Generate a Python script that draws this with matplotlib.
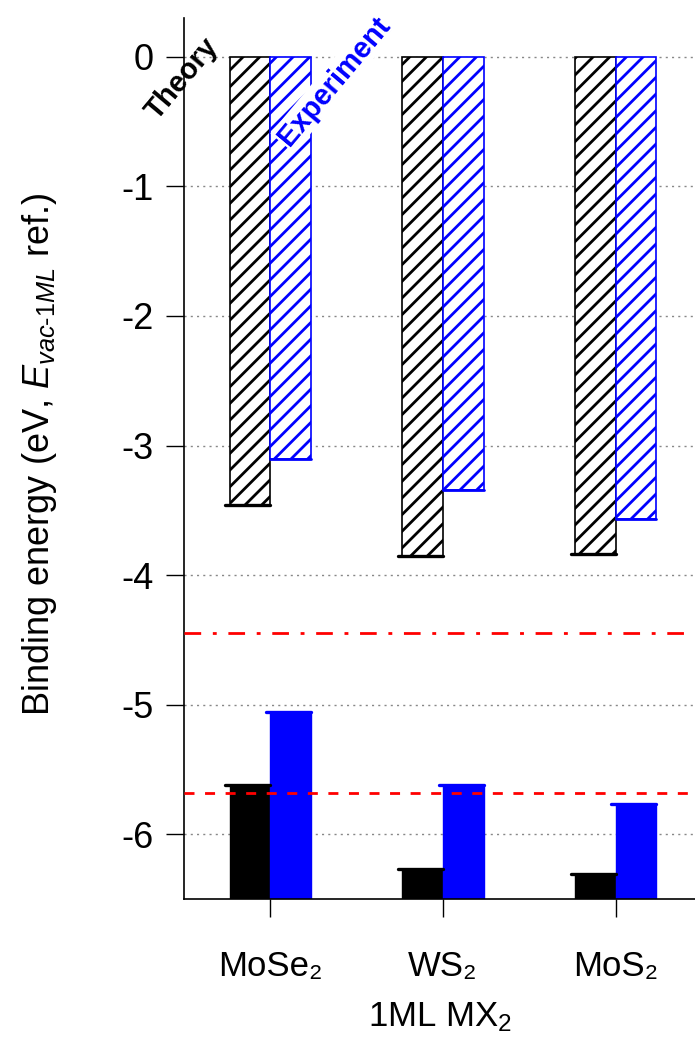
import numpy as np
import matplotlib
matplotlib.use('Agg')
import matplotlib.pyplot as plt

plt.rcParams['font.family'] = ['Liberation Sans', 'DejaVu Sans']
plt.rcParams['mathtext.fontset'] = 'custom'
plt.rcParams['mathtext.rm'] = 'Liberation Sans'
plt.rcParams['mathtext.it'] = 'Liberation Sans:italic'
plt.rcParams['hatch.linewidth'] = 2.0

materials = ['MoSe\u2082', 'WS\u2082', 'MoS\u2082']
cbm_theory = [-3.46, -3.85, -3.84]
cbm_exp = [-3.10, -3.34, -3.57]
vbm_theory = [-5.62, -6.27, -6.31]
vbm_exp = [-5.06, -5.62, -5.77]
level_dashdot = -4.45
level_dashed = -5.68
ymin, ymax = -6.5, 0.3
yticks = [0, -1, -2, -3, -4, -5, -6]

x = np.arange(len(materials))
w = 0.235

fig = plt.figure(figsize=(6.95, 10.38), dpi=100)
ax = fig.add_axes([184/695, 139/1038, 1 - 184/695, (899 - 18)/1038])

for y in yticks:
    ax.axhline(y, color='#888888', lw=1.0, ls=(0, (1.5, 3)), zorder=0)

# conduction band (hatched, hanging from 0)
ax.bar(x - w/2, cbm_theory, w, bottom=0, color='white', edgecolor='black',
       hatch='//', lw=1.2, zorder=2)
ax.bar(x + w/2, cbm_exp, w, bottom=0, color='white', edgecolor='#0000ff',
       hatch='//', lw=1.2, zorder=2)

# valence band (solid, from bottom)
ax.bar(x - w/2, np.array(vbm_theory) - ymin, w, bottom=ymin, color='black',
       edgecolor='black', lw=1.0, zorder=2)
ax.bar(x + w/2, np.array(vbm_exp) - ymin, w, bottom=ymin, color='#0000ff',
       edgecolor='#0000ff', lw=1.0, zorder=2)

# little caps at the bar ends
for xi, t, e, vt, ve in zip(x, cbm_theory, cbm_exp, vbm_theory, vbm_exp):
    ax.plot([xi - w - 0.025, xi], [t, t], color='black', lw=2.4, solid_capstyle='round', zorder=3)
    ax.plot([xi, xi + w], [e, e], color='#0000ff', lw=2.0, solid_capstyle='round', zorder=3)
    ax.plot([xi - w - 0.025, xi], [vt, vt], color='black', lw=2.4, solid_capstyle='round', zorder=3)
    ax.plot([xi - 0.025, xi + w], [ve, ve], color='#0000ff', lw=2.4, solid_capstyle='round', zorder=3)

l1 = ax.axhline(level_dashdot, color='#ff0000', lw=2.0, zorder=4)
l1.set_dashes([6.0, 4.2, 1.4, 4.2])
l2 = ax.axhline(level_dashed, color='#ff0000', lw=2.0, zorder=4)
l2.set_dashes([3.6, 3.8])

ax.text(-0.51, -0.17, 'Theory', rotation=50, rotation_mode='anchor', ha='center', va='center',
        fontsize=21, fontweight='bold', color='black', zorder=5)
ax.text(0.37, -0.19, 'Experiment', rotation=50, rotation_mode='anchor', ha='center', va='center',
        fontsize=21, fontweight='bold', color='#0000ff', zorder=5,
        bbox=dict(facecolor='white', edgecolor='none', pad=1))

ax.set_xlim(-0.5, 2.46)
ax.set_ylim(ymin, ymax)
ax.set_yticks(yticks)
ax.set_yticklabels([str(v) for v in yticks])
ax.set_xticks(x)
ax.set_xticklabels(materials)
ax.tick_params(axis='y', direction='out', length=13, width=1.0, pad=9, labelsize=26)
ax.tick_params(axis='x', direction='out', length=13, width=1.0, pad=24, labelsize=25)
ax.spines['top'].set_visible(False)
ax.spines['right'].set_visible(False)
for s in ['left', 'bottom']:
    ax.spines[s].set_linewidth(1.2)

ax.set_xlabel(r'1ML MX$_2$', fontsize=25, labelpad=12)
ax.set_ylabel(r'Binding energy (eV, $E_{vac\text{-}1ML}$ ref.)', fontsize=26)
ax.yaxis.set_label_coords(-0.245, 0.505)

fig.savefig('out.png', dpi=100)
